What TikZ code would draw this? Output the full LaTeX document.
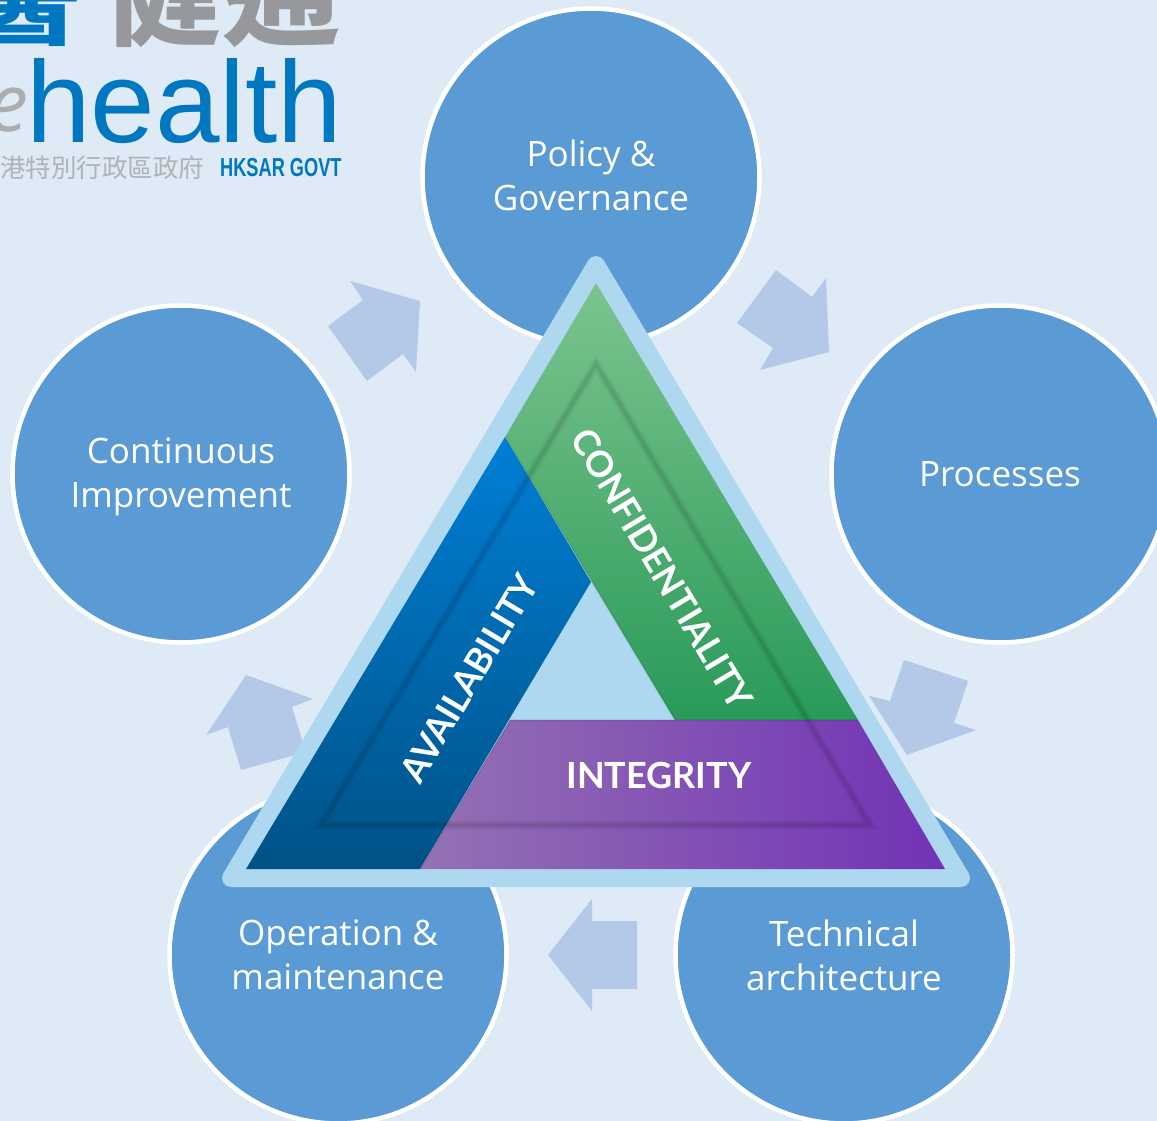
\documentclass[tikz,border=0pt]{standalone}
\usepackage{fontspec}
\setmainfont{Open Sans}
\newfontfamily\latofont{Lato}
\newfontfamily\logofont{Liberation Sans}
\newfontfamily\cjkfont{Noto Sans CJK TC}
\definecolor{pagebg}{HTML}{DEEAF6}
\definecolor{circblue}{HTML}{5B9BD5}
\definecolor{arrowblue}{HTML}{B4C9E7}
\definecolor{triedge}{HTML}{AED8EF}
\definecolor{logoblue}{HTML}{0078C1}
\definecolor{logogrey}{HTML}{96989B}
\definecolor{logolight}{HTML}{B0B2B5}
\tikzset{
  topic/.style={circle,draw=white,line width=4.5pt,fill=circblue,minimum size=337pt,inner sep=0pt},
  topictext/.style={text=white,align=center,inner sep=0pt,font=\fontsize{35}{44}\selectfont},
  flowarrow/.style={fill=arrowblue,draw=none},
  band/.style={text=white,font=\latofont\bfseries\fontsize{36}{40}\selectfont,inner sep=0pt},
  logotext/.style={inner sep=0pt,anchor=west},
  softedge/.style={draw=black,line join=miter},
}
\begin{document}
\begin{tikzpicture}[x=1pt,y=-1pt]
\useasboundingbox (0,0) rectangle (1157,1121);
\begin{scope}
\clip (0,0) rectangle (1157,1121);
\fill[pagebg] (0,0) rectangle (1157,1121);

% logo
\node[logotext,text=logoblue,font=\cjkfont\bfseries\fontsize{118}{118}\selectfont] (logoA) at (-38,-8) {醫};
\node[logotext,text=logogrey,font=\cjkfont\bfseries\fontsize{118}{118}\selectfont] (logoB) at (104,-8) {健通};
\node[logotext,text=logogrey!80,font=\rmfamily\itshape\fontsize{80}{80}\selectfont] (logoC) at (-12,110) {e};
\node[logotext,text=logoblue,font=\logofont\fontsize{116}{116}\selectfont,anchor=base west] (logoD) at (26,143) {health};
\node[logotext,text=logolight,font=\cjkfont\fontsize{25.5}{26}\selectfont] (logoE) at (0,168) {港特別行政區政府};
\node[logotext,text=logoblue,font=\logofont\bfseries\fontsize{26}{26}\selectfont] (logoF) at (220,168) {\scalebox{0.7}[1]{HKSAR GOVT}};

% circles
\node[topic,label={[topictext,yshift=1.5pt]center:Policy \&\\Governance}] (policy) at (591,177) {};
\node[topic,label={[topictext]center:Processes}] (proc) at (1000,474) {};
\node[topic,label={[topictext,yshift=-3pt]center:Continuous\\Improvement}] (cont) at (181,474) {};
\node[topic,label={[topictext]center:Operation \&\\maintenance}] (oper) at (338,955) {};
\node[topic,label={[topictext]center:Technical\\architecture}] (tech) at (844,955) {};

% arrows
\fill[flowarrow] (776,270) -- (812,297) -- (826,278) -- (829,352) -- (760,370) -- (773,348) -- (737,323) -- cycle;
\fill[flowarrow] (904,660) -- (968,681) -- (954,723) -- (976,730) -- (907,755) -- (869,696) -- (890,701) -- cycle;
\fill[flowarrow] (592,899) -- (548,955) -- (592,1011) -- (592,989) -- (637,989) -- (637,921) -- (592,921) -- cycle;
\fill[flowarrow] (246,675) -- (313,699) -- (292,707) -- (306,752) -- (241,770) -- (228,727) -- (206,735) -- cycle;
\fill[flowarrow] (350,281) -- (420,301) -- (416,372) -- (403,354) -- (367,381) -- (328,326) -- (363,300) -- cycle;

% triangle
\filldraw[triedge,line width=18pt,line join=round] (596,265) -- (231,878) -- (961,878) -- cycle;

% bands
\shade[top color={rgb,255:red,0;green,127;blue,214},bottom color={rgb,255:red,0;green,82;blue,134}]
  (505,437) -- (246,869) -- (420,869) -- (591,582) -- cycle;
\shade[top color={rgb,255:red,124;green,196;blue,143},bottom color={rgb,255:red,41;green,154;blue,89}]
  (596,283) -- (858,720) -- (675,720) -- (505,437) -- cycle;
\shade[left color={rgb,255:red,148;green,114;blue,180},right color={rgb,255:red,114;green,50;blue,181}]
  (510,720) -- (858,720) -- (945,869) -- (420,869) -- cycle;

% soft inner triangle edge
\foreach \wd/\op in {10/0.02,8/0.025,6/0.03,4/0.03,2/0.03}{
  \draw[softedge,line width=\wd pt,opacity=\op] (596,364) -- (321,825) -- (870,825) -- cycle;
}
\foreach \wd/\op in {3/0.03,1.5/0.04}{
  \draw[softedge,line width=\wd pt,opacity=\op] (510,720) -- (858,720);
  \draw[softedge,line width=\wd pt,opacity=\op] (510,720) -- (420,869);
  \draw[softedge,line width=\wd pt,opacity=\op] (505,437) -- (675,720);
}

% labels
\node[band,rotate=-59.2] (conf) at (662,569) {CONFIDENTIALITY};
\node[band,rotate=59.2] (avail) at (469,678) {AVAILABILITY};
\node[band] (integ) at (659,775) {INTEGRITY};
\end{scope}
\end{tikzpicture}
\end{document}
